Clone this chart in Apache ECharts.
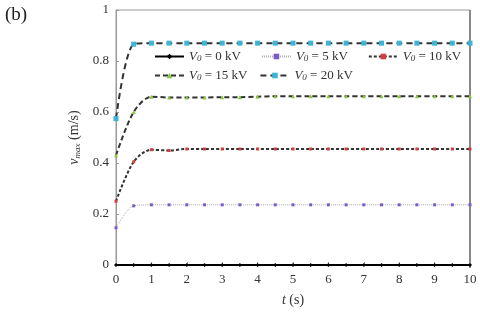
<!DOCTYPE html>
<html><head><meta charset="utf-8">
<script src="https://cdn.jsdelivr.net/npm/echarts@6/dist/echarts.min.js"></script>
<style>html,body{margin:0;padding:0;background:#fff}#c{width:480px;height:312px}</style>
</head><body><div id="c"></div>
<script>
const times = [0,0.5,1,1.5,2,2.5,3,3.5,4,4.5,5,5.5,6,6.5,7,7.5,8,8.5,9,9.5,10];
const v0kV  = [0,0,0,0,0,0,0,0,0,0,0,0,0,0,0,0,0,0,0,0,0];
const v5kV  = [0.146,0.232,0.236,0.236,0.236,0.236,0.236,0.236,0.236,0.236,0.236,0.236,0.236,0.236,0.236,0.236,0.236,0.236,0.236,0.236,0.236];
const v10kV = [0.25,0.405,0.452,0.449,0.455,0.455,0.455,0.455,0.455,0.455,0.455,0.455,0.455,0.455,0.455,0.455,0.455,0.455,0.455,0.455,0.455];
const v15kV = [0.43,0.60,0.660,0.657,0.657,0.657,0.658,0.658,0.660,0.662,0.662,0.662,0.662,0.662,0.662,0.662,0.662,0.662,0.662,0.662,0.662];
const v20kV = [0.574,0.866,0.870,0.870,0.870,0.870,0.870,0.870,0.870,0.870,0.870,0.870,0.870,0.870,0.870,0.870,0.870,0.870,0.870,0.870,0.870];
const names = ['0 kV','5 kV','10 kV','15 kV','20 kV'];

const F = 'Liberation Serif';
const pair = v => times.map((t,i)=>[t,v[i]]);
const chart = echarts.init(document.getElementById('c'));
const rich = {
  i:{fontFamily:F,fontStyle:'italic',fontSize:14,color:'#333'},
  s:{fontFamily:F,fontStyle:'italic',fontSize:9,color:'#333',verticalAlign:'bottom',padding:[6,0,0,0]},
  n:{fontFamily:F,fontSize:14,color:'#333'}
};
const lrich = {
  i:{fontFamily:F,fontStyle:'italic',fontSize:13,color:'#333'},
  s:{fontFamily:F,fontStyle:'italic',fontSize:9,color:'#333',verticalAlign:'bottom',padding:[5,0,0,0]},
  n:{fontFamily:F,fontSize:13,color:'#333'}
};
const legFmt = n => '{i|V}{s|0}{n| = ' + n + '}';
function mk(name, data, color, lineColor, ltype, lw, sym, ssize){
  return {name, type:'line', data:pair(data), smooth:0.3, symbol:sym, symbolSize:ssize,
    itemStyle:{color:color}, lineStyle:{color:lineColor, type:ltype, width:lw}, z: 3};
}
chart.setOption({
  animation:false,
  grid:{left:116,right:10,top:10,bottom:44,show:true,borderColor:'#999',borderWidth:1},
  graphic:[{type:'text',left:5,top:6,style:{text:'(b)',font:'19px "Liberation Serif"',fill:'#222'}},
    {type:'line',shape:{x1:470,y1:10,x2:470,y2:268},style:{stroke:'#888',lineWidth:2}}],
  xAxis:{type:'value',min:0,max:10,interval:1,
    axisLine:{show:true,lineStyle:{color:'#999'}},axisTick:{show:true,inside:true,length:3,lineStyle:{color:'#999'}},
    splitLine:{show:false},
    axisLabel:{fontFamily:F,fontSize:13,color:'#333',margin:8},
    name:'{i|t}{n| (s)}',nameLocation:'middle',nameGap:28,nameTextStyle:{rich}},
  yAxis:{type:'value',min:0,max:1,interval:0.2,
    axisLine:{show:true,lineStyle:{color:'#999'}},axisTick:{show:true,inside:true,length:3,lineStyle:{color:'#999'}},
    splitLine:{show:false},
    axisLabel:{fontFamily:F,fontSize:13,color:'#333',margin:7,formatter:v=>String(+v.toFixed(1))},
    name:'{i|v}{s|max}{n| (m/s)}',nameLocation:'middle',nameRotate:90,nameGap:30,nameTextStyle:{rich}},
  legend:[
    {data:names.slice(0,3),left:149,top:45,width:320,itemWidth:29,itemHeight:7,itemGap:20,formatter:legFmt,textStyle:{rich:lrich}},
    {data:names.slice(3),left:149,top:64,width:320,itemWidth:29,itemHeight:7,itemGap:12,formatter:legFmt,textStyle:{rich:lrich}}
  ],
  series:[
    mk('0 kV',v0kV,'#000','#000','solid',2,'diamond',4),
    mk('5 kV',v5kV,'#7a5cc4','#aaa',[1,1],1,'rect',3),
    mk('10 kV',v10kV,'#d04040','#333',[3,2],2,'rect',3),
    mk('15 kV',v15kV,'#8cc63f','#333',[5,3],2,'triangle',4),
    mk('20 kV',v20kV,'#3cb4d4','#333',[6,4],2,'rect',5)
  ]
});
</script></body></html>
